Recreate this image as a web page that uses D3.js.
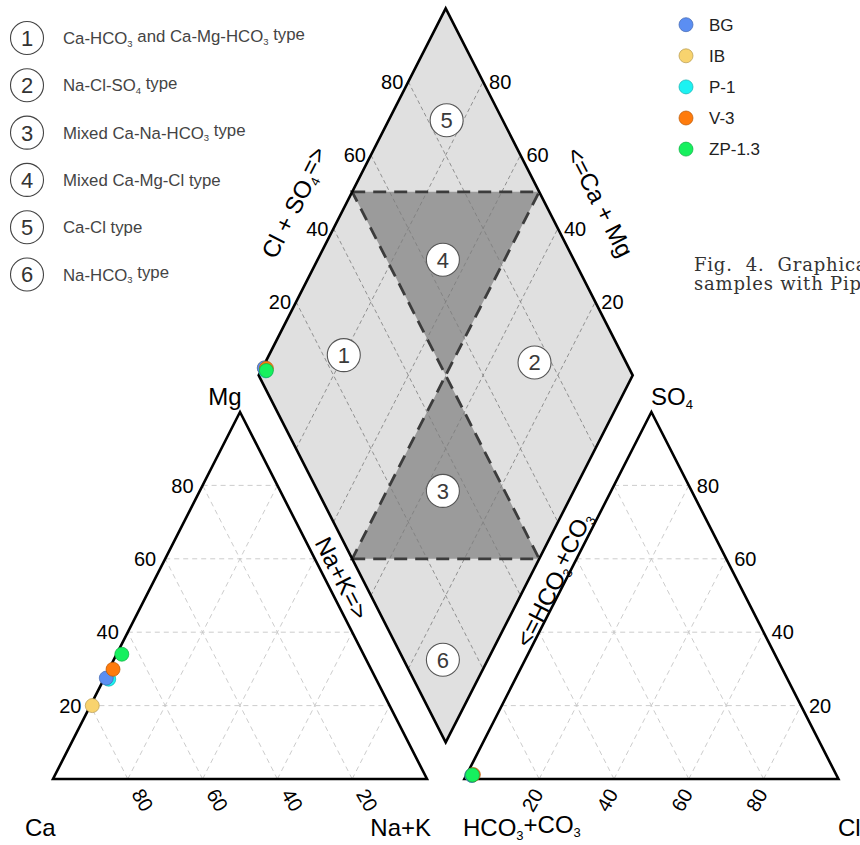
<!DOCTYPE html>
<html>
<head>
<meta charset="utf-8">
<script src="https://cdn.jsdelivr.net/npm/d3@7"></script>
<style>
  body { margin: 0; background: #fff; }
  svg { display: block; font-family: "Liberation Sans", Arial, sans-serif; }
</style>
</head>
<body>
<svg id="chart" width="860" height="845"></svg>
<script>
// ---- Sample data (milliequivalent percentages) ----
const samples      = ["BG", "IB", "P-1", "V-3", "ZP-1.3"];
const sampleColors = ["#5b8ef2", "#f8d36e", "#1cf2f2", "#ff7b0c", "#16f05e"];
const caPct   = [72.0, 79.5, 71.5, 69.0, 64.6];
const mgPct   = [27.5, 20.0, 27.2, 29.9, 34.0];
const naKPct  = [0.5, 0.5, 1.3, 1.1, 1.4];
const hco3Pct = [97.5, 97.5, 97.5, 97.0, 97.3];
const so4Pct  = [1.0, 1.0, 1.0, 1.2, 1.1];
const clPct   = [1.5, 1.5, 1.5, 1.8, 1.6];
const drawOrder = ["IB", "P-1", "BG", "V-3", "ZP-1.3"];

// ---- Axis ticks and water-type legend ----
const gridTicks = [20, 40, 60, 80];
const typeNumbers = [1, 2, 3, 4, 5, 6];
const typeLabels = [
  "Ca-HCO_{3} and Ca-Mg-HCO_{3} type",
  "Na-Cl-SO_{4} type",
  "Mixed Ca-Na-HCO_{3} type",
  "Mixed Ca-Mg-Cl type",
  "Ca-Cl type",
  "Na-HCO_{3} type"
];

// ---- Layout ----
const svg = d3.select("#chart");
const SIDE = 374, TRI_H = 367, X0 = 53, Y0 = 779, GAP = 0.1;
// unit space: triangle side = 1 horizontally, triangle height = 1 vertically
const ux = d3.scaleLinear().domain([0, 1]).range([X0, X0 + SIDE]);
const vy = d3.scaleLinear().domain([0, 1]).range([Y0, Y0 - TRI_H]);

const catPt = (ca, mg, nak) => {
  const s = ca + mg + nak;
  return [ux(nak / s + 0.5 * mg / s), vy(mg / s)];
};
const anPt = (hco3, so4, cl) => {
  const s = hco3 + so4 + cl;
  return [ux(1 + GAP + cl / s + 0.5 * so4 / s), vy(so4 / s)];
};
// a = Na+K fraction, b = Cl+SO4 fraction
const diaPt = (a, b) => [ux(0.5 + GAP / 2 + 0.5 * (a + b)), vy(1 + GAP + b - a)];

const line = d3.line();

// rich text with _{x} subscripts
function richText(sel, str, subSize) {
  const parts = str.split(/(_\{[^}]*\})/).filter(p => p.length);
  let back = null;
  parts.forEach(p => {
    if (p.startsWith("_{")) {
      sel.append("tspan").attr("dy", "0.3em").attr("font-size", subSize)
        .text(p.slice(2, -1));
      back = "-0.3em";
    } else {
      const t = sel.append("tspan").text(p);
      if (back) { t.attr("dy", back); back = null; }
    }
  });
  return sel;
}

const gGrid = svg.append("g");
const gShape = svg.append("g");
const gText = svg.append("g");
const gPts = svg.append("g");

const triGridStyle = s => s.attr("fill", "none").attr("stroke", "#c6c6c6")
  .attr("stroke-width", 0.9).attr("stroke-dasharray", "5,4");

// ---- Left (cation) triangle grid ----
gridTicks.forEach(t => {
  const f = t, r = 100 - t;
  [[catPt(r, f, 0), catPt(0, f, r)],
   [catPt(f, 0, r), catPt(f, r, 0)],
   [catPt(r, 0, f), catPt(0, r, f)]].forEach(seg =>
    gGrid.append("path").attr("d", line(seg)).call(triGridStyle));
});
// ---- Right (anion) triangle grid ----
gridTicks.forEach(t => {
  const f = t, r = 100 - t;
  [[anPt(r, f, 0), anPt(0, f, r)],
   [anPt(f, 0, r), anPt(f, r, 0)],
   [anPt(r, 0, f), anPt(0, r, f)]].forEach(seg =>
    gGrid.append("path").attr("d", line(seg)).call(triGridStyle));
});

// ---- Diamond ----
const diaCorners = [diaPt(0, 0), diaPt(1, 0), diaPt(1, 1), diaPt(0, 1)];
gShape.append("path").attr("d", line(diaCorners) + "Z").attr("fill", "#e0e0e0");

const upperHour = [diaPt(0, 0.5), diaPt(0.5, 1), diaPt(0.5, 0.5)];
const lowerHour = [diaPt(0.5, 0), diaPt(1, 0.5), diaPt(0.5, 0.5)];
[upperHour, lowerHour].forEach(tri =>
  gShape.append("path").attr("d", line(tri) + "Z").attr("fill", "#9b9b9b"));

gridTicks.forEach(t => {
  const f = t / 100;
  [[diaPt(f, 0), diaPt(f, 1)], [diaPt(0, f), diaPt(1, f)]].forEach(seg =>
    gShape.append("path").attr("d", line(seg)).attr("fill", "none")
      .attr("stroke", "#7c7c7c").attr("stroke-width", 0.8)
      .attr("stroke-dasharray", "4,3"));
});

[upperHour, lowerHour].forEach(tri =>
  gShape.append("path").attr("d", line(tri) + "Z").attr("fill", "none")
    .attr("stroke", "#3c3c3c").attr("stroke-width", 2.8)
    .attr("stroke-dasharray", "13,8"));

// ---- Outlines ----
const outline = s => s.attr("fill", "none").attr("stroke", "#000")
  .attr("stroke-width", 2.6).attr("stroke-linejoin", "miter");
gShape.append("path").attr("d", line(diaCorners) + "Z").call(outline);
gShape.append("path").attr("d", line([catPt(100, 0, 0), catPt(0, 0, 100), catPt(0, 100, 0)]) + "Z").call(outline);
gShape.append("path").attr("d", line([anPt(100, 0, 0), anPt(0, 0, 100), anPt(0, 100, 0)]) + "Z").call(outline);

// ---- Region number markers in the diamond ----
const regionAt = [[0.2, 0.255], [0.72, 0.755], [0.65, 0.335], [0.335, 0.65], [0.155, 0.85], [0.88, 0.105]];
typeNumbers.forEach((n, i) => {
  const [x, y] = diaPt(regionAt[i][0], regionAt[i][1]);
  gShape.append("circle").attr("cx", x).attr("cy", y).attr("r", 16.5)
    .attr("fill", "#fff").attr("stroke", "#555").attr("stroke-width", 1.1);
  gShape.append("text").attr("x", x).attr("y", y).attr("dy", "0.36em")
    .attr("text-anchor", "middle").attr("font-size", 22).attr("fill", "#3a3a3a").text(n);
});

// ---- Tick labels ----
const tickFont = 20;
gridTicks.forEach(t => {
  // left triangle, Mg along left edge
  let [x, y] = catPt(100 - t, t, 0);
  gText.append("text").attr("x", x - 9).attr("y", y).attr("dy", "0.36em")
    .attr("text-anchor", "end").attr("font-size", tickFont).text(t);
  // left triangle, Ca along base
  [x, y] = catPt(t, 0, 100 - t);
  gText.append("text").attr("transform", `translate(${x + 15},${y + 21}) rotate(60)`)
    .attr("dy", "0.36em").attr("text-anchor", "middle").attr("font-size", tickFont).text(t);
  // right triangle, SO4 along right edge
  [x, y] = anPt(0, t, 100 - t);
  gText.append("text").attr("x", x + 8).attr("y", y).attr("dy", "0.36em")
    .attr("text-anchor", "start").attr("font-size", tickFont).text(t);
  // right triangle, Cl along base
  [x, y] = anPt(100 - t, 0, t);
  gText.append("text").attr("transform", `translate(${x - 7},${y + 21}) rotate(-60)`)
    .attr("dy", "0.36em").attr("text-anchor", "middle").attr("font-size", tickFont).text(t);
  // diamond, Cl+SO4 along upper-left edge
  [x, y] = diaPt(0, t / 100);
  gText.append("text").attr("x", x - 5).attr("y", y).attr("dy", "0.36em")
    .attr("text-anchor", "end").attr("font-size", tickFont).text(t);
  // diamond, Ca+Mg along upper-right edge
  [x, y] = diaPt(1 - t / 100, 1);
  gText.append("text").attr("x", x + 6).attr("y", y).attr("dy", "0.36em")
    .attr("text-anchor", "start").attr("font-size", tickFont).text(t);
});

// ---- Axis titles ----
const edgeAngle = Math.atan2(TRI_H, SIDE / 2) * 180 / Math.PI;
const titles = [
  { s: "Cl + SO_{4}=>", x: 295, y: 203, a: -edgeAngle },
  { s: "<=Ca + Mg",     x: 600, y: 202, a: edgeAngle },
  { s: "Na+K=>",        x: 342, y: 578, a: edgeAngle },
  { s: "<=HCO_{3}+CO_{3}", x: 555, y: 580, a: -edgeAngle }
];
titles.forEach(d => {
  const t = gText.append("text").attr("transform", `translate(${d.x},${d.y}) rotate(${d.a})`)
    .attr("dy", "0.36em").attr("text-anchor", "middle").attr("font-size", 24);
  richText(t, d.s, 13);
});

// ---- Vertex labels ----
const vFont = 24;
gText.append("text").attr("x", 225).attr("y", 405).attr("text-anchor", "middle").attr("font-size", vFont).text("Mg");
gText.append("text").attr("x", 25).attr("y", 836).attr("font-size", vFont).text("Ca");
gText.append("text").attr("x", 431).attr("y", 836).attr("text-anchor", "end").attr("font-size", vFont).text("Na+K");
richText(gText.append("text").attr("x", 651).attr("y", 405).attr("font-size", vFont), "SO_{4}", 13);
richText(gText.append("text").attr("x", 463).attr("y", 836).attr("font-size", vFont), "HCO_{3}+CO_{3}", 13);
gText.append("text").attr("x", 838).attr("y", 836).attr("font-size", vFont).text("Cl");

// ---- Water-type legend ----
typeNumbers.forEach((n, i) => {
  const cy = 38 + i * 47.3;
  gText.append("circle").attr("cx", 27).attr("cy", cy).attr("r", 16.5)
    .attr("fill", "#fff").attr("stroke", "#444").attr("stroke-width", 1.1);
  gText.append("text").attr("x", 27).attr("y", cy).attr("dy", "0.36em")
    .attr("text-anchor", "middle").attr("font-size", 22).attr("fill", "#333").text(n);
  const t = gText.append("text").attr("x", 63).attr("y", cy).attr("dy", "0.36em")
    .attr("font-size", 16.8).attr("fill", "#444");
  richText(t, typeLabels[i], 9.5);
});

// ---- Sample legend ----
samples.forEach((s, i) => {
  const cy = 24.7 + i * 31.1;
  gText.append("circle").attr("cx", 686).attr("cy", cy).attr("r", 7)
    .attr("fill", sampleColors[i]).attr("stroke", d3.color(sampleColors[i]).darker(0.9)).attr("stroke-width", 0.7);
  gText.append("text").attr("x", 709).attr("y", cy).attr("dy", "0.36em")
    .attr("font-size", 17).attr("fill", "#222").text(s);
});

// ---- Caption ----
const capStyle = s => s.style("font-family", "'DejaVu Serif', serif")
  .attr("font-size", 18).attr("letter-spacing", 0.8).attr("fill", "#333")
  .style("white-space", "pre");
gText.append("text").call(capStyle).attr("x", 694).attr("y", 271).text("Fig.  4.  Graphical");
gText.append("text").call(capStyle).attr("x", 694).attr("y", 290).text("samples with Piper");

// ---- Sample points ----
drawOrder.forEach(name => {
  const i = samples.indexOf(name);
  const na = naKPct[i] / (caPct[i] + mgPct[i] + naKPct[i]);
  const cs = (clPct[i] + so4Pct[i]) / (hco3Pct[i] + so4Pct[i] + clPct[i]);
  const pts = [
    catPt(caPct[i], mgPct[i], naKPct[i]),
    anPt(hco3Pct[i], so4Pct[i], clPct[i]),
    diaPt(na, cs)
  ];
  pts.forEach(([x, y]) =>
    gPts.append("circle").attr("cx", x).attr("cy", y).attr("r", 7)
      .attr("fill", sampleColors[i])
      .attr("stroke", d3.color(sampleColors[i]).darker(0.9)).attr("stroke-width", 0.7));
});
</script>
</body>
</html>
